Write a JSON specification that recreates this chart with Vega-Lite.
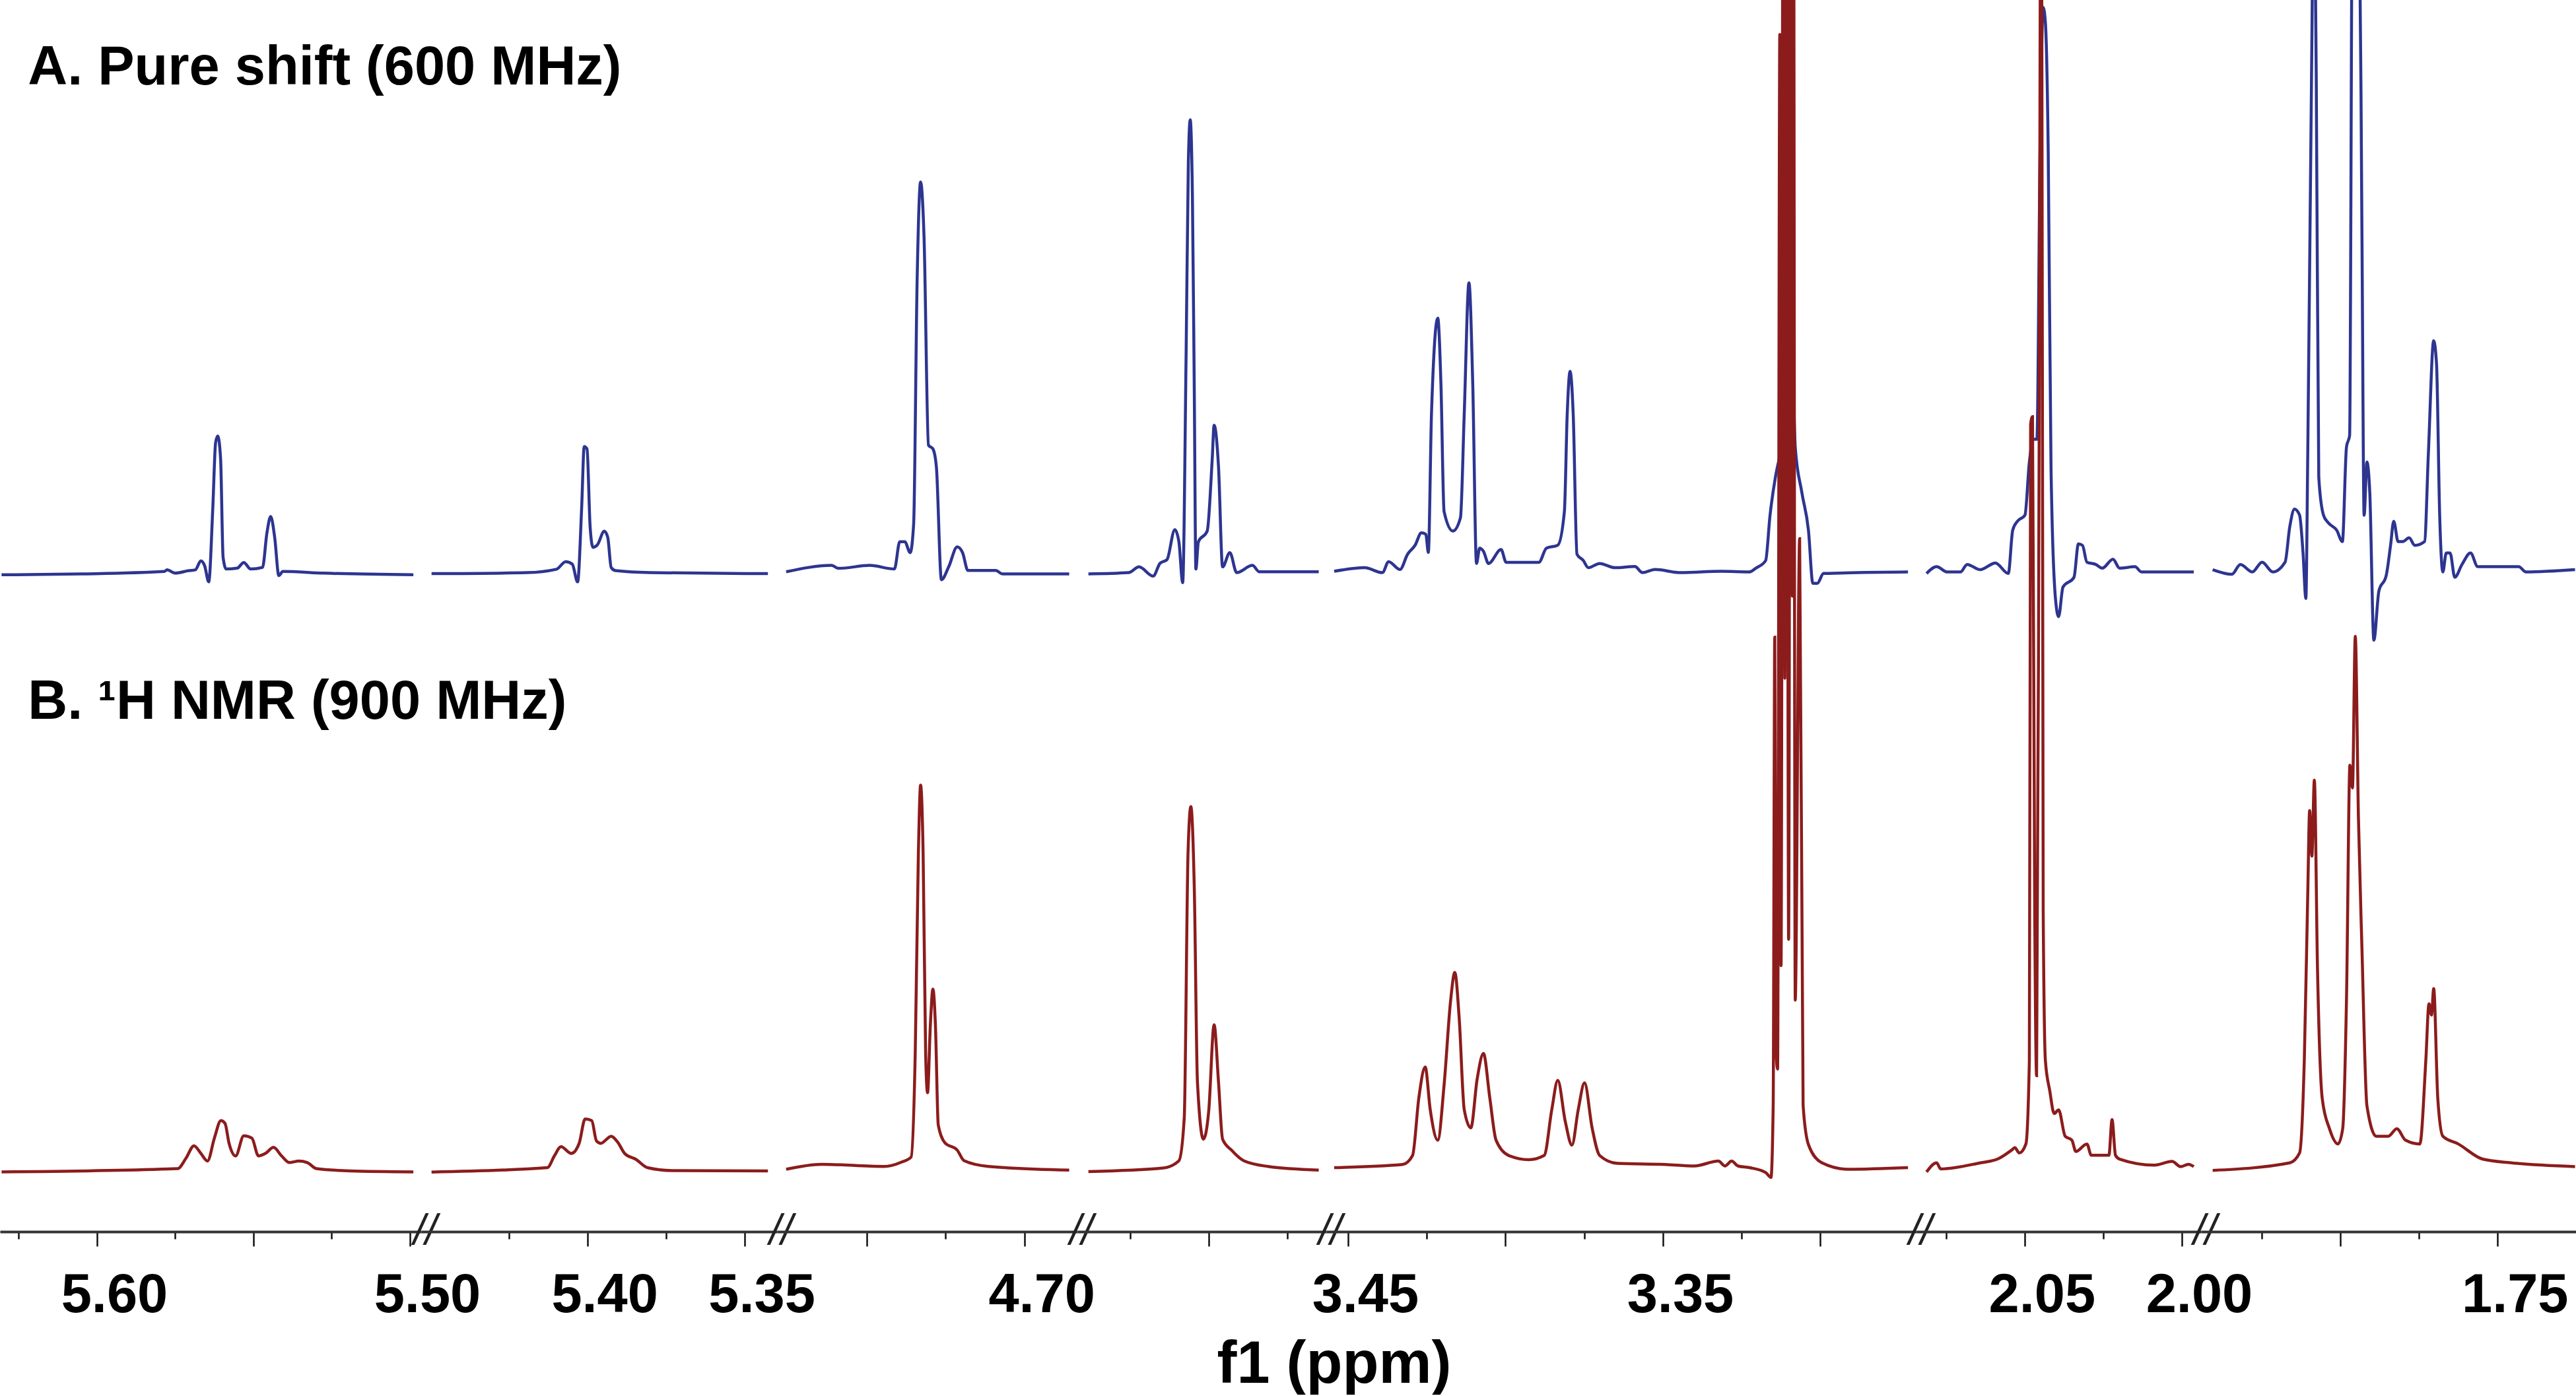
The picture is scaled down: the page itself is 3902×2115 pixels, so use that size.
{
"$schema": "https://vega.github.io/schema/vega-lite/v6.json",
"padding": 0,
"background": "white",
"bounds": "flush",
"spacing": 0,
"title": {"text": "f1 (ppm)", "orient": "bottom", "anchor": "middle", "font": "Liberation Sans", "fontSize": 90, "fontWeight": "bold", "color": "#000000", "dx": 70, "offset": 20},
"data": {"values": [
{"s":"A","x":5.6305,"y":-0.5},{"s":"A","x":5.6051,"y":0},{"s":"A","x":5.5785,"y":1.5},{"s":"A","x":5.5776,"y":2.5},{"s":"A","x":5.5750,"y":0.5},{"s":"A","x":5.5707,"y":2},{"s":"A","x":5.5686,"y":2.5},{"s":"A","x":5.5668,"y":8},{"s":"A","x":5.5656,"y":5},{"s":"A","x":5.5643,"y":-4.8},{"s":"A","x":5.5630,"y":40},{"s":"A","x":5.5621,"y":80},{"s":"A","x":5.5614,"y":84},{"s":"A","x":5.5605,"y":70},{"s":"A","x":5.5597,"y":10},{"s":"A","x":5.5587,"y":3},{"s":"A","x":5.5552,"y":3.5},{"s":"A","x":5.5531,"y":7},{"s":"A","x":5.5509,"y":3},{"s":"A","x":5.5471,"y":4},{"s":"A","x":5.5457,"y":25},{"s":"A","x":5.5445,"y":35},{"s":"A","x":5.5432,"y":22},{"s":"A","x":5.5419,"y":-1},{"s":"A","x":5.5406,"y":1.5},{"s":"A","x":5.5277,"y":0.5},{"s":"A","x":5.4989,"y":-0.5},
{"s":"B","x":5.6305,"y":-0.6},{"s":"B","x":5.5742,"y":1.4},{"s":"B","x":5.5716,"y":7.6},{"s":"B","x":5.5690,"y":15.3},{"s":"B","x":5.5668,"y":10.6},{"s":"B","x":5.5647,"y":6},{"s":"B","x":5.5625,"y":19.9},{"s":"B","x":5.5604,"y":30.6},{"s":"B","x":5.5591,"y":29},{"s":"B","x":5.5578,"y":16.8},{"s":"B","x":5.5557,"y":9.1},{"s":"B","x":5.5531,"y":21.4},{"s":"B","x":5.5505,"y":19.9},{"s":"B","x":5.5484,"y":9.1},{"s":"B","x":5.5462,"y":10.6},{"s":"B","x":5.5436,"y":14.3},{"s":"B","x":5.5410,"y":9.1},{"s":"B","x":5.5385,"y":5.1},{"s":"B","x":5.5355,"y":6},{"s":"B","x":5.5328,"y":5.1},{"s":"B","x":5.5299,"y":1.4},{"s":"B","x":5.5191,"y":0},{"s":"B","x":5.4989,"y":-0.6},
{"s":"A","x":5.4496,"y":0.2},{"s":"A","x":5.4192,"y":0.8},{"s":"A","x":5.4098,"y":2.9},{"s":"A","x":5.4069,"y":7.5},{"s":"A","x":5.4048,"y":6},{"s":"A","x":5.4031,"y":-4.8},{"s":"A","x":5.4018,"y":40.7},{"s":"A","x":5.4010,"y":77.6},{"s":"A","x":5.4001,"y":76.1},{"s":"A","x":5.3991,"y":28.4},{"s":"A","x":5.3982,"y":16.2},{"s":"A","x":5.3968,"y":17.7},{"s":"A","x":5.3946,"y":26},{"s":"A","x":5.3935,"y":22.3},{"s":"A","x":5.3924,"y":3.9},{"s":"A","x":5.3910,"y":2},{"s":"A","x":5.3801,"y":0.8},{"s":"A","x":5.3425,"y":0.2},
{"s":"B","x":5.4496,"y":-0.7},{"s":"B","x":5.4127,"y":2},{"s":"B","x":5.4105,"y":9.1},{"s":"B","x":5.4084,"y":14.7},{"s":"B","x":5.4051,"y":10.6},{"s":"B","x":5.4026,"y":16.8},{"s":"B","x":5.4007,"y":31.6},{"s":"B","x":5.3986,"y":30.6},{"s":"B","x":5.3971,"y":18.3},{"s":"B","x":5.3957,"y":16.8},{"s":"B","x":5.3924,"y":21.1},{"s":"B","x":5.3903,"y":17.4},{"s":"B","x":5.3881,"y":10.6},{"s":"B","x":5.3845,"y":7},{"s":"B","x":5.3809,"y":2},{"s":"B","x":5.3729,"y":0.2},{"s":"B","x":5.3425,"y":0},
{"s":"A","x":4.7755,"y":1.3},{"s":"A","x":4.7611,"y":5.2},{"s":"A","x":4.7589,"y":3.4},{"s":"A","x":4.7490,"y":5.2},{"s":"A","x":4.7412,"y":3},{"s":"A","x":4.7395,"y":19.6},{"s":"A","x":4.7379,"y":19.6},{"s":"A","x":4.7362,"y":13},{"s":"A","x":4.7351,"y":30.4},{"s":"A","x":4.7340,"y":178.6},{"s":"A","x":4.7329,"y":238.7},{"s":"A","x":4.7318,"y":204.7},{"s":"A","x":4.7304,"y":78.4},{"s":"A","x":4.7290,"y":76.2},{"s":"A","x":4.7279,"y":65.3},{"s":"A","x":4.7263,"y":-3.5},{"s":"A","x":4.7240,"y":4.3},{"s":"A","x":4.7213,"y":16.5},{"s":"A","x":4.7196,"y":13},{"s":"A","x":4.7179,"y":2.1},{"s":"A","x":4.7091,"y":2.1},{"s":"A","x":4.7069,"y":0},{"s":"A","x":4.6858,"y":0},
{"s":"B","x":4.7755,"y":1},{"s":"B","x":4.7643,"y":4},{"s":"B","x":4.7445,"y":2.7},{"s":"B","x":4.7390,"y":5.3},{"s":"B","x":4.7359,"y":8.4},{"s":"B","x":4.7346,"y":71.5},{"s":"B","x":4.7336,"y":193.5},{"s":"B","x":4.7329,"y":234.9},{"s":"B","x":4.7321,"y":193.5},{"s":"B","x":4.7313,"y":71.5},{"s":"B","x":4.7307,"y":47.6},{"s":"B","x":4.7298,"y":89},{"s":"B","x":4.7290,"y":110.7},{"s":"B","x":4.7282,"y":89},{"s":"B","x":4.7273,"y":27.9},{"s":"B","x":4.7252,"y":17.1},{"s":"B","x":4.7213,"y":12.7},{"s":"B","x":4.7191,"y":6.2},{"s":"B","x":4.7113,"y":2.7},{"s":"B","x":4.6858,"y":0.5},
{"s":"A","x":3.6384,"y":0},{"s":"A","x":3.6256,"y":0.8},{"s":"A","x":3.6223,"y":4.3},{"s":"A","x":3.6178,"y":-1.3},{"s":"A","x":3.6156,"y":6.5},{"s":"A","x":3.6134,"y":8.7},{"s":"A","x":3.6109,"y":27},{"s":"A","x":3.6096,"y":19.6},{"s":"A","x":3.6084,"y":-5.3},{"s":"A","x":3.6073,"y":135},{"s":"A","x":3.6066,"y":250},{"s":"A","x":3.6060,"y":276.6},{"s":"A","x":3.6053,"y":230},{"s":"A","x":3.6047,"y":110},{"s":"A","x":3.6042,"y":3},{"s":"A","x":3.6034,"y":19.6},{"s":"A","x":3.6006,"y":26.1},{"s":"A","x":3.5990,"y":70},{"s":"A","x":3.5984,"y":90.6},{"s":"A","x":3.5970,"y":65.3},{"s":"A","x":3.5957,"y":4.3},{"s":"A","x":3.5934,"y":13},{"s":"A","x":3.5912,"y":0.8},{"s":"A","x":3.5862,"y":5.2},{"s":"A","x":3.5840,"y":1.3},{"s":"A","x":3.5651,"y":1.3},
{"s":"B","x":3.6384,"y":-0.4},{"s":"B","x":3.6145,"y":1.8},{"s":"B","x":3.6096,"y":6.2},{"s":"B","x":3.6079,"y":32.3},{"s":"B","x":3.6067,"y":193.5},{"s":"B","x":3.6058,"y":221.8},{"s":"B","x":3.6047,"y":171.7},{"s":"B","x":3.6037,"y":54.1},{"s":"B","x":3.6018,"y":19.3},{"s":"B","x":3.6001,"y":36.7},{"s":"B","x":3.5984,"y":89},{"s":"B","x":3.5970,"y":54.1},{"s":"B","x":3.5957,"y":19.3},{"s":"B","x":3.5929,"y":12.7},{"s":"B","x":3.5890,"y":6.2},{"s":"B","x":3.5812,"y":2.7},{"s":"B","x":3.5651,"y":0.5},
{"s":"A","x":3.4544,"y":1.6},{"s":"A","x":3.4447,"y":3.8},{"s":"A","x":3.4391,"y":0.8},{"s":"A","x":3.4371,"y":7.5},{"s":"A","x":3.4335,"y":2.7},{"s":"A","x":3.4311,"y":12},{"s":"A","x":3.4287,"y":17.5},{"s":"A","x":3.4267,"y":25},{"s":"A","x":3.4253,"y":24.2},{"s":"A","x":3.4245,"y":13.1},{"s":"A","x":3.4235,"y":97.4},{"s":"A","x":3.4215,"y":155.8},{"s":"A","x":3.4205,"y":116},{"s":"A","x":3.4195,"y":38},{"s":"A","x":3.4167,"y":26.1},{"s":"A","x":3.4143,"y":34.2},{"s":"A","x":3.4131,"y":97.4},{"s":"A","x":3.4116,"y":177.3},{"s":"A","x":3.4104,"y":116},{"s":"A","x":3.4092,"y":6.4},{"s":"A","x":3.4082,"y":15.7},{"s":"A","x":3.4070,"y":13.8},{"s":"A","x":3.4054,"y":6.4},{"s":"A","x":3.4014,"y":14.9},{"s":"A","x":3.3998,"y":7.1},{"s":"A","x":3.3894,"y":7.1},{"s":"A","x":3.3870,"y":15.7},{"s":"A","x":3.3834,"y":17.5},{"s":"A","x":3.3813,"y":38},{"s":"A","x":3.3804,"y":97.4},{"s":"A","x":3.3795,"y":123.4},{"s":"A","x":3.3785,"y":97.4},{"s":"A","x":3.3773,"y":12},{"s":"A","x":3.3753,"y":8.2},{"s":"A","x":3.3737,"y":3.8},{"s":"A","x":3.3701,"y":6.4},{"s":"A","x":3.3653,"y":3.8},{"s":"A","x":3.3589,"y":4.5},{"s":"A","x":3.3565,"y":0.8},{"s":"A","x":3.3525,"y":2.7},{"s":"A","x":3.3444,"y":0.8},{"s":"A","x":3.3316,"y":1.6},{"s":"A","x":3.3226,"y":1.2},{"s":"A","x":3.3205,"y":3.5},{"s":"A","x":3.3174,"y":8.1},{"s":"A","x":3.3160,"y":35.8},{"s":"A","x":3.3143,"y":58.9},{"s":"A","x":3.3125,"y":75},{"s":"A","x":3.3108,"y":91.2},{"s":"A","x":3.3094,"y":105},{"s":"A","x":3.3087,"y":110},{"s":"A","x":3.3080,"y":77.3},{"s":"A","x":3.3059,"y":49.6},{"s":"A","x":3.3038,"y":26.5},{"s":"A","x":3.3024,"y":-5.7},{"s":"A","x":3.3010,"y":-5.7},{"s":"A","x":3.2990,"y":0.3},{"s":"A","x":3.2722,"y":1.2},
{"s":"B","x":3.4544,"y":2},{"s":"B","x":3.4327,"y":3.9},{"s":"B","x":3.4295,"y":9.4},{"s":"B","x":3.4275,"y":44.7},{"s":"B","x":3.4255,"y":63.3},{"s":"B","x":3.4239,"y":37.3},{"s":"B","x":3.4215,"y":18.7},{"s":"B","x":3.4195,"y":52.2},{"s":"B","x":3.4174,"y":104.2},{"s":"B","x":3.4161,"y":120.9},{"s":"B","x":3.4147,"y":93},{"s":"B","x":3.4131,"y":37.3},{"s":"B","x":3.4110,"y":26.2},{"s":"B","x":3.4090,"y":55.9},{"s":"B","x":3.4070,"y":71.5},{"s":"B","x":3.4050,"y":44.7},{"s":"B","x":3.4030,"y":18.7},{"s":"B","x":3.3990,"y":9.4},{"s":"B","x":3.3926,"y":6.8},{"s":"B","x":3.3877,"y":9.4},{"s":"B","x":3.3853,"y":37.3},{"s":"B","x":3.3834,"y":55.1},{"s":"B","x":3.3810,"y":29.9},{"s":"B","x":3.3789,"y":15.7},{"s":"B","x":3.3769,"y":37.3},{"s":"B","x":3.3749,"y":53.6},{"s":"B","x":3.3725,"y":26.2},{"s":"B","x":3.3701,"y":9.4},{"s":"B","x":3.3645,"y":4.6},{"s":"B","x":3.3492,"y":3.9},{"s":"B","x":3.3400,"y":3},{"s":"B","x":3.3324,"y":6},{"s":"B","x":3.3303,"y":3},{"s":"B","x":3.3282,"y":6},{"s":"B","x":3.3262,"y":3},{"s":"B","x":3.3225,"y":2},{"s":"B","x":3.3174,"y":-1},{"s":"B","x":3.3157,"y":-4},{"s":"B","x":3.3150,"y":40},{"s":"B","x":3.3145,"y":325},{"s":"B","x":3.3140,"y":70},{"s":"B","x":3.3136,"y":62},{"s":"B","x":3.3129,"y":692},{"s":"B","x":3.3125,"y":125},{"s":"B","x":3.3118,"y":900},{"s":"B","x":3.3113,"y":300},{"s":"B","x":3.3108,"y":900},{"s":"B","x":3.3101,"y":141},{"s":"B","x":3.3094,"y":900},{"s":"B","x":3.3089,"y":350},{"s":"B","x":3.3086,"y":900},{"s":"B","x":3.3080,"y":104},{"s":"B","x":3.3066,"y":385},{"s":"B","x":3.3055,"y":40},{"s":"B","x":3.3038,"y":16},{"s":"B","x":3.2996,"y":5},{"s":"B","x":3.2913,"y":1},{"s":"B","x":3.2722,"y":2},
{"s":"A","x":2.0812,"y":0.3},{"s":"A","x":2.0780,"y":4.4},{"s":"A","x":2.0746,"y":1.2},{"s":"A","x":2.0704,"y":1.2},{"s":"A","x":2.0683,"y":5.8},{"s":"A","x":2.0641,"y":2.6},{"s":"A","x":2.0593,"y":6.7},{"s":"A","x":2.0552,"y":0.3},{"s":"A","x":2.0538,"y":26.6},{"s":"A","x":2.0523,"y":32.1},{"s":"A","x":2.0499,"y":35.8},{"s":"A","x":2.0485,"y":68.1},{"s":"A","x":2.0472,"y":82},{"s":"A","x":2.0461,"y":82},{"s":"A","x":2.0451,"y":257.2},{"s":"A","x":2.0441,"y":345},{"s":"A","x":2.0434,"y":335.7},{"s":"A","x":2.0425,"y":257},{"s":"A","x":2.0416,"y":63.5},{"s":"A","x":2.0402,"y":-14.9},{"s":"A","x":2.0392,"y":-26},{"s":"A","x":2.0378,"y":-8},{"s":"A","x":2.0343,"y":-2},{"s":"A","x":2.0329,"y":18.3},{"s":"A","x":2.0316,"y":17.4},{"s":"A","x":2.0302,"y":7.2},{"s":"A","x":2.0274,"y":5.8},{"s":"A","x":2.0253,"y":3.5},{"s":"A","x":2.0219,"y":9},{"s":"A","x":2.0198,"y":3.5},{"s":"A","x":2.0149,"y":4.4},{"s":"A","x":2.0128,"y":1.2},{"s":"A","x":1.9962,"y":1.2},
{"s":"B","x":2.0812,"y":-0.7},{"s":"B","x":2.0780,"y":4.9},{"s":"B","x":2.0767,"y":1.2},{"s":"B","x":2.0641,"y":4.9},{"s":"B","x":2.0586,"y":7.2},{"s":"B","x":2.0541,"y":12.7},{"s":"B","x":2.0531,"y":14.1},{"s":"B","x":2.0517,"y":10.9},{"s":"B","x":2.0496,"y":16.4},{"s":"B","x":2.0485,"y":67.2},{"s":"B","x":2.0481,"y":454.7},{"s":"B","x":2.0475,"y":459.3},{"s":"B","x":2.0468,"y":159.4},{"s":"B","x":2.0462,"y":58},{"s":"B","x":2.0454,"y":436},{"s":"B","x":2.0447,"y":900},{"s":"B","x":2.0441,"y":159},{"s":"B","x":2.0434,"y":67.2},{"s":"B","x":2.0420,"y":48.7},{"s":"B","x":2.0406,"y":34.9},{"s":"B","x":2.0392,"y":37.2},{"s":"B","x":2.0371,"y":21.1},{"s":"B","x":2.0350,"y":18.8},{"s":"B","x":2.0337,"y":11.8},{"s":"B","x":2.0302,"y":16.4},{"s":"B","x":2.0288,"y":9.5},{"s":"B","x":2.0232,"y":9.5},{"s":"B","x":2.0222,"y":31.2},{"s":"B","x":2.0211,"y":9.5},{"s":"B","x":2.0198,"y":7.2},{"s":"B","x":2.0087,"y":3.5},{"s":"B","x":2.0031,"y":5.8},{"s":"B","x":2.0004,"y":2.6},{"s":"B","x":1.9979,"y":4},{"s":"B","x":1.9962,"y":2.6},
{"s":"A","x":1.8405,"y":2.6},{"s":"A","x":1.8344,"y":-0.2},{"s":"A","x":1.8317,"y":5.8},{"s":"A","x":1.8279,"y":1.2},{"s":"A","x":1.8248,"y":7.2},{"s":"A","x":1.8214,"y":1.2},{"s":"A","x":1.8175,"y":7.2},{"s":"A","x":1.8160,"y":28.9},{"s":"A","x":1.8145,"y":39.5},{"s":"A","x":1.8129,"y":35.8},{"s":"A","x":1.8118,"y":12.8},{"s":"A","x":1.8109,"y":-14.9},{"s":"A","x":1.8103,"y":72.7},{"s":"A","x":1.8091,"y":303.4},{"s":"A","x":1.8084,"y":420},{"s":"A","x":1.8076,"y":303},{"s":"A","x":1.8068,"y":58.9},{"s":"A","x":1.8053,"y":35.8},{"s":"A","x":1.8038,"y":31.2},{"s":"A","x":1.8011,"y":26.6},{"s":"A","x":1.7993,"y":19.7},{"s":"A","x":1.7980,"y":77.3},{"s":"A","x":1.7970,"y":84.3},{"s":"A","x":1.7961,"y":420},{"s":"A","x":1.7950,"y":420},{"s":"A","x":1.7940,"y":420},{"s":"A","x":1.7931,"y":211},{"s":"A","x":1.7924,"y":35.8},{"s":"A","x":1.7915,"y":68.1},{"s":"A","x":1.7906,"y":49.7},{"s":"A","x":1.7893,"y":-40.3},{"s":"A","x":1.7877,"y":-10.3},{"s":"A","x":1.7854,"y":-1.1},{"s":"A","x":1.7840,"y":17.4},{"s":"A","x":1.7830,"y":32.1},{"s":"A","x":1.7816,"y":19.7},{"s":"A","x":1.7801,"y":19.7},{"s":"A","x":1.7781,"y":22},{"s":"A","x":1.7763,"y":17.4},{"s":"A","x":1.7732,"y":19.7},{"s":"A","x":1.7720,"y":72.7},{"s":"A","x":1.7703,"y":142},{"s":"A","x":1.7694,"y":128},{"s":"A","x":1.7684,"y":35.8},{"s":"A","x":1.7674,"y":1.2},{"s":"A","x":1.7663,"y":12.8},{"s":"A","x":1.7651,"y":12.8},{"s":"A","x":1.7636,"y":-2},{"s":"A","x":1.7613,"y":5.8},{"s":"A","x":1.7586,"y":12.8},{"s":"A","x":1.7563,"y":4.4},{"s":"A","x":1.7433,"y":4.4},{"s":"A","x":1.7410,"y":1.2},{"s":"A","x":1.7254,"y":2.6},
{"s":"B","x":1.8405,"y":0.3},{"s":"B","x":1.8160,"y":4.9},{"s":"B","x":1.8129,"y":10.9},{"s":"B","x":1.8114,"y":67.2},{"s":"B","x":1.8103,"y":168.7},{"s":"B","x":1.8097,"y":219.4},{"s":"B","x":1.8090,"y":191.7},{"s":"B","x":1.8082,"y":237.9},{"s":"B","x":1.8072,"y":122.5},{"s":"B","x":1.8057,"y":44.1},{"s":"B","x":1.8034,"y":25.7},{"s":"B","x":1.8007,"y":16.4},{"s":"B","x":1.7992,"y":25.7},{"s":"B","x":1.7980,"y":104.1},{"s":"B","x":1.7969,"y":247.1},{"s":"B","x":1.7961,"y":233.2},{"s":"B","x":1.7952,"y":325.5},{"s":"B","x":1.7942,"y":214.8},{"s":"B","x":1.7931,"y":136.4},{"s":"B","x":1.7915,"y":39.5},{"s":"B","x":1.7885,"y":21.1},{"s":"B","x":1.7847,"y":21.1},{"s":"B","x":1.7820,"y":25.7},{"s":"B","x":1.7793,"y":18.8},{"s":"B","x":1.7747,"y":16.4},{"s":"B","x":1.7728,"y":67.2},{"s":"B","x":1.7718,"y":101.8},{"s":"B","x":1.7710,"y":94.9},{"s":"B","x":1.7703,"y":111},{"s":"B","x":1.7690,"y":44.1},{"s":"B","x":1.7674,"y":21.1},{"s":"B","x":1.7625,"y":16.4},{"s":"B","x":1.7548,"y":7.2},{"s":"B","x":1.7456,"y":4.9},{"s":"B","x":1.7254,"y":2.6}
]},
"hconcat": [
{"width": 638, "height": 1866,
 "encoding": {"x": {"field": "x", "type": "quantitative", "title": null, "scale": {"domain": [5.4964, 5.631], "reverse": true, "nice": false, "zero": false}, "axis": {"values": [5.625, 5.6, 5.575, 5.55, 5.525, 5.5], "labelExpr": "indexof([5.6, 5.5], datum.value) >= 0 ? format(datum.value, '.2f') : ''", "tickSize": {"condition": {"test": "abs(datum.value*20 - round(datum.value*20)) < 0.01", "value": 22}, "value": 11}}}},
 "layer": [
  {"transform": [{"filter": "datum.s == 'A' && datum.x >= 5.4964 && datum.x <= 5.631"}], "mark": {"type": "line", "clip": true, "color": "#2D3590", "strokeWidth": 4.5, "interpolate": "monotone"}, "encoding": {"y": {"field": "y", "type": "quantitative", "scale": {"domain": [-400.5, 349.5], "nice": false, "zero": false}, "axis": null}, "order": {"field": "x", "sort": "descending"}}},
  {"transform": [{"filter": "datum.s == 'B' && datum.x >= 5.4964 && datum.x <= 5.631"}], "mark": {"type": "line", "clip": true, "color": "#8C1C1C", "strokeWidth": 4.5, "interpolate": "monotone"}, "encoding": {"y": {"field": "y", "type": "quantitative", "scale": {"domain": [-37, 713], "nice": false, "zero": false}, "axis": null}, "order": {"field": "x", "sort": "descending"}}},
  {"data": {"values": [{"x": 5.6221, "y": 298, "t": "A. Pure shift (600 MHz)"}, {"x": 5.6221, "y": -88.2, "t": "B. ¹H NMR (900 MHz)"}]}, "mark": {"type": "text", "align": "left", "baseline": "alphabetic", "font": "Liberation Sans", "fontSize": 83, "fontWeight": "bold", "color": "#000000"}, "encoding": {"y": {"field": "y", "type": "quantitative", "scale": {"domain": [-400.5, 349.5], "nice": false, "zero": false}, "axis": null}, "text": {"field": "t"}}},
  {"data": {"values": [{"x": 5.4964, "y": 0}]}, "mark": {"type": "text", "text": "//", "align": "center", "baseline": "middle", "dx": 6, "font": "Liberation Sans", "fontSize": 64, "fontStyle": "italic", "color": "#222222"}, "encoding": {"y": {"field": "y", "type": "quantitative", "scale": {"domain": [0, 1], "nice": false, "zero": false}, "axis": null}}}
 ],
 "resolve": {"scale": {"y": "independent"}}
},
{"width": 539, "height": 1866,
 "encoding": {"x": {"field": "x", "type": "quantitative", "title": null, "scale": {"domain": [5.3396, 5.4529], "reverse": true, "nice": false, "zero": false}, "axis": {"values": [5.425, 5.4, 5.375, 5.35], "labelExpr": "indexof([5.4, 5.35], datum.value) >= 0 ? format(datum.value, '.2f') : ''", "tickSize": {"condition": {"test": "abs(datum.value*20 - round(datum.value*20)) < 0.01", "value": 22}, "value": 11}}}},
 "layer": [
  {"transform": [{"filter": "datum.s == 'A' && datum.x >= 5.3396 && datum.x <= 5.4529"}], "mark": {"type": "line", "clip": true, "color": "#2D3590", "strokeWidth": 4.5, "interpolate": "monotone"}, "encoding": {"y": {"field": "y", "type": "quantitative", "scale": {"domain": [-400.5, 349.5], "nice": false, "zero": false}, "axis": null}, "order": {"field": "x", "sort": "descending"}}},
  {"transform": [{"filter": "datum.s == 'B' && datum.x >= 5.3396 && datum.x <= 5.4529"}], "mark": {"type": "line", "clip": true, "color": "#8C1C1C", "strokeWidth": 4.5, "interpolate": "monotone"}, "encoding": {"y": {"field": "y", "type": "quantitative", "scale": {"domain": [-37, 713], "nice": false, "zero": false}, "axis": null}, "order": {"field": "x", "sort": "descending"}}},
  {"data": {"values": [{"x": 5.3396, "y": 0}]}, "mark": {"type": "text", "text": "//", "align": "center", "baseline": "middle", "dx": 6, "font": "Liberation Sans", "fontSize": 64, "fontStyle": "italic", "color": "#222222"}, "encoding": {"y": {"field": "y", "type": "quantitative", "scale": {"domain": [0, 1], "nice": false, "zero": false}, "axis": null}}}
 ],
 "resolve": {"scale": {"y": "independent"}}
},
{"width": 455, "height": 1866,
 "encoding": {"x": {"field": "x", "type": "quantitative", "title": null, "scale": {"domain": [4.6832, 4.7784], "reverse": true, "nice": false, "zero": false}, "axis": {"values": [4.75, 4.725, 4.7], "labelExpr": "indexof([4.7], datum.value) >= 0 ? format(datum.value, '.2f') : ''", "tickSize": {"condition": {"test": "abs(datum.value*20 - round(datum.value*20)) < 0.01", "value": 22}, "value": 11}}}},
 "layer": [
  {"transform": [{"filter": "datum.s == 'A' && datum.x >= 4.6832 && datum.x <= 4.7784"}], "mark": {"type": "line", "clip": true, "color": "#2D3590", "strokeWidth": 4.5, "interpolate": "monotone"}, "encoding": {"y": {"field": "y", "type": "quantitative", "scale": {"domain": [-400.5, 349.5], "nice": false, "zero": false}, "axis": null}, "order": {"field": "x", "sort": "descending"}}},
  {"transform": [{"filter": "datum.s == 'B' && datum.x >= 4.6832 && datum.x <= 4.7784"}], "mark": {"type": "line", "clip": true, "color": "#8C1C1C", "strokeWidth": 4.5, "interpolate": "monotone"}, "encoding": {"y": {"field": "y", "type": "quantitative", "scale": {"domain": [-37, 713], "nice": false, "zero": false}, "axis": null}, "order": {"field": "x", "sort": "descending"}}},
  {"data": {"values": [{"x": 4.6832, "y": 0}]}, "mark": {"type": "text", "text": "//", "align": "center", "baseline": "middle", "dx": 6, "font": "Liberation Sans", "fontSize": 64, "fontStyle": "italic", "color": "#222222"}, "encoding": {"y": {"field": "y", "type": "quantitative", "scale": {"domain": [0, 1], "nice": false, "zero": false}, "axis": null}}}
 ],
 "resolve": {"scale": {"y": "independent"}}
},
{"width": 377, "height": 1866,
 "encoding": {"x": {"field": "x", "type": "quantitative", "title": null, "scale": {"domain": [3.5627, 3.6419], "reverse": true, "nice": false, "zero": false}, "axis": {"values": [3.625, 3.6, 3.575], "labelExpr": "''", "tickSize": {"condition": {"test": "abs(datum.value*20 - round(datum.value*20)) < 0.01", "value": 22}, "value": 11}}}},
 "layer": [
  {"transform": [{"filter": "datum.s == 'A' && datum.x >= 3.5627 && datum.x <= 3.6419"}], "mark": {"type": "line", "clip": true, "color": "#2D3590", "strokeWidth": 4.5, "interpolate": "monotone"}, "encoding": {"y": {"field": "y", "type": "quantitative", "scale": {"domain": [-400.5, 349.5], "nice": false, "zero": false}, "axis": null}, "order": {"field": "x", "sort": "descending"}}},
  {"transform": [{"filter": "datum.s == 'B' && datum.x >= 3.5627 && datum.x <= 3.6419"}], "mark": {"type": "line", "clip": true, "color": "#8C1C1C", "strokeWidth": 4.5, "interpolate": "monotone"}, "encoding": {"y": {"field": "y", "type": "quantitative", "scale": {"domain": [-37, 713], "nice": false, "zero": false}, "axis": null}, "order": {"field": "x", "sort": "descending"}}},
  {"data": {"values": [{"x": 3.5627, "y": 0}]}, "mark": {"type": "text", "text": "//", "align": "center", "baseline": "middle", "dx": 6, "font": "Liberation Sans", "fontSize": 64, "fontStyle": "italic", "color": "#222222"}, "encoding": {"y": {"field": "y", "type": "quantitative", "scale": {"domain": [0, 1], "nice": false, "zero": false}, "axis": null}}}
 ],
 "resolve": {"scale": {"y": "independent"}}
},
{"width": 894, "height": 1866,
 "encoding": {"x": {"field": "x", "type": "quantitative", "title": null, "scale": {"domain": [3.2695, 3.4569], "reverse": true, "nice": false, "zero": false}, "axis": {"values": [3.45, 3.425, 3.4, 3.375, 3.35, 3.325, 3.3], "labelExpr": "indexof([3.45, 3.35], datum.value) >= 0 ? format(datum.value, '.2f') : ''", "tickSize": {"condition": {"test": "abs(datum.value*20 - round(datum.value*20)) < 0.01", "value": 22}, "value": 11}}}},
 "layer": [
  {"transform": [{"filter": "datum.s == 'A' && datum.x >= 3.2695 && datum.x <= 3.4569"}], "mark": {"type": "line", "clip": true, "color": "#2D3590", "strokeWidth": 4.5, "interpolate": "monotone"}, "encoding": {"y": {"field": "y", "type": "quantitative", "scale": {"domain": [-400.5, 349.5], "nice": false, "zero": false}, "axis": null}, "order": {"field": "x", "sort": "descending"}}},
  {"transform": [{"filter": "datum.s == 'B' && datum.x >= 3.2695 && datum.x <= 3.4569"}], "mark": {"type": "line", "clip": true, "color": "#8C1C1C", "strokeWidth": 4.5, "interpolate": "monotone"}, "encoding": {"y": {"field": "y", "type": "quantitative", "scale": {"domain": [-37, 713], "nice": false, "zero": false}, "axis": null}, "order": {"field": "x", "sort": "descending"}}},
  {"data": {"values": [{"x": 3.2695, "y": 0}]}, "mark": {"type": "text", "text": "//", "align": "center", "baseline": "middle", "dx": 6, "font": "Liberation Sans", "fontSize": 64, "fontStyle": "italic", "color": "#222222"}, "encoding": {"y": {"field": "y", "type": "quantitative", "scale": {"domain": [0, 1], "nice": false, "zero": false}, "axis": null}}}
 ],
 "resolve": {"scale": {"y": "independent"}}
},
{"width": 431, "height": 1866,
 "encoding": {"x": {"field": "x", "type": "quantitative", "title": null, "scale": {"domain": [1.9939, 2.0844], "reverse": true, "nice": false, "zero": false}, "axis": {"values": [2.075, 2.05, 2.025, 2.0], "labelExpr": "indexof([2.05, 2.0], datum.value) >= 0 ? format(datum.value, '.2f') : ''", "tickSize": {"condition": {"test": "abs(datum.value*20 - round(datum.value*20)) < 0.01", "value": 22}, "value": 11}}}},
 "layer": [
  {"transform": [{"filter": "datum.s == 'A' && datum.x >= 1.9939 && datum.x <= 2.0844"}], "mark": {"type": "line", "clip": true, "color": "#2D3590", "strokeWidth": 4.5, "interpolate": "monotone"}, "encoding": {"y": {"field": "y", "type": "quantitative", "scale": {"domain": [-400.5, 349.5], "nice": false, "zero": false}, "axis": null}, "order": {"field": "x", "sort": "descending"}}},
  {"transform": [{"filter": "datum.s == 'B' && datum.x >= 1.9939 && datum.x <= 2.0844"}], "mark": {"type": "line", "clip": true, "color": "#8C1C1C", "strokeWidth": 4.5, "interpolate": "monotone"}, "encoding": {"y": {"field": "y", "type": "quantitative", "scale": {"domain": [-37, 713], "nice": false, "zero": false}, "axis": null}, "order": {"field": "x", "sort": "descending"}}},
  {"data": {"values": [{"x": 1.9939, "y": 0}]}, "mark": {"type": "text", "text": "//", "align": "center", "baseline": "middle", "dx": 6, "font": "Liberation Sans", "fontSize": 64, "fontStyle": "italic", "color": "#222222"}, "encoding": {"y": {"field": "y", "type": "quantitative", "scale": {"domain": [0, 1], "nice": false, "zero": false}, "axis": null}}}
 ],
 "resolve": {"scale": {"y": "independent"}}
},
{"width": 568, "height": 1866,
 "encoding": {"x": {"field": "x", "type": "quantitative", "title": null, "scale": {"domain": [1.7251, 1.8442], "reverse": true, "nice": false, "zero": false}, "axis": {"values": [1.825, 1.8, 1.775, 1.75], "labelExpr": "indexof([1.75], datum.value) >= 0 ? format(datum.value, '.2f') : ''", "tickSize": {"condition": {"test": "abs(datum.value*20 - round(datum.value*20)) < 0.01", "value": 22}, "value": 11}}}},
 "layer": [
  {"transform": [{"filter": "datum.s == 'A' && datum.x >= 1.7251 && datum.x <= 1.8442"}], "mark": {"type": "line", "clip": true, "color": "#2D3590", "strokeWidth": 4.5, "interpolate": "monotone"}, "encoding": {"y": {"field": "y", "type": "quantitative", "scale": {"domain": [-400.5, 349.5], "nice": false, "zero": false}, "axis": null}, "order": {"field": "x", "sort": "descending"}}},
  {"transform": [{"filter": "datum.s == 'B' && datum.x >= 1.7251 && datum.x <= 1.8442"}], "mark": {"type": "line", "clip": true, "color": "#8C1C1C", "strokeWidth": 4.5, "interpolate": "monotone"}, "encoding": {"y": {"field": "y", "type": "quantitative", "scale": {"domain": [-37, 713], "nice": false, "zero": false}, "axis": null}, "order": {"field": "x", "sort": "descending"}}}
 ],
 "resolve": {"scale": {"y": "independent"}}
}
],
"config": {
 "view": {"stroke": null},
 "axis": {"domainColor": "#333333", "domainWidth": 4, "tickColor": "#111111", "tickWidth": 2.5, "labelFont": "Liberation Sans", "labelFontSize": 83, "labelFontWeight": "bold", "labelColor": "#000000", "labelPadding": 33, "labelFlush": false, "labelOverlap": false, "labelBound": false, "labelOffset": 26, "grid": false}
}
}
